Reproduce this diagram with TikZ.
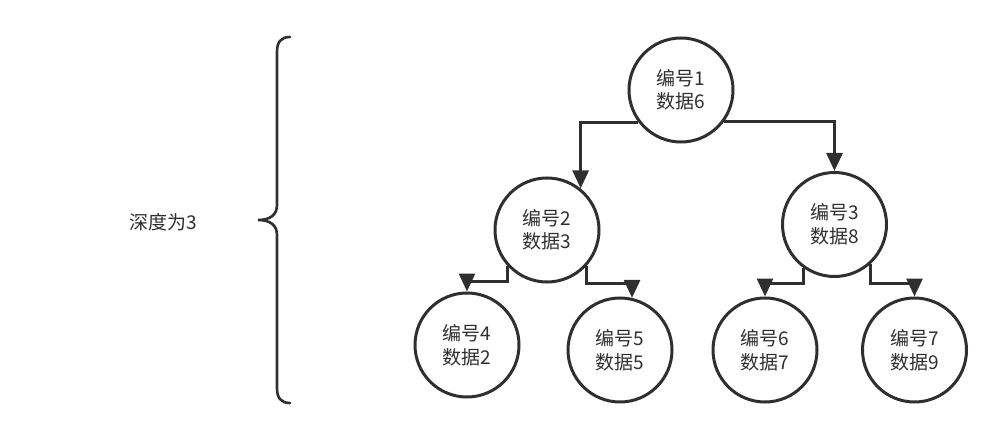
\documentclass[tikz,border=0pt]{standalone}
\usepackage{fontspec}
\setmainfont{Noto Sans CJK SC}
\usetikzlibrary{arrows.meta}
\definecolor{ink}{HTML}{2F2F2F}
\tikzset{
  treenode/.style={circle, draw=ink, line width=3pt, minimum size=104pt, inner sep=0pt,
    align=center, text=ink, font=\fontsize{19}{23.5}\selectfont},
  link/.style={draw=ink, line width=3pt, -{Triangle[length=18pt,width=16pt]}},
  bracestyle/.style={draw=ink, line width=2.6pt, line cap=round},
  labeltext/.style={text=ink, font=\fontsize{19}{23.5}\selectfont, inner sep=0pt}
}
\begin{document}
\begin{tikzpicture}[x=1pt,y=-1pt]
\useasboundingbox (0,0) rectangle (1004,441);
\node[treenode] (n1) at (681,90) {编号1\\数据6};
\node[treenode] (n2) at (547,230) {编号2\\数据3};
\node[treenode] (n3) at (834.5,224.5) {编号3\\数据8};
\node[treenode] (n4) at (467,345) {编号4\\数据2};
\node[treenode] (n5) at (620,350) {编号5\\数据5};
\node[treenode] (n6) at (765,350) {编号6\\数据7};
\node[treenode] (n7) at (914.5,350) {编号7\\数据9};
\node[labeltext] (depth) at (163,222) {深度为3};

\draw[link] (n1.217) -| (n2.51.5);
\draw[link] (n1.324) -| (n3.north);
\draw[link] (n2.223) -- ++(0,15) -| (n4.north);
\draw[link] (n2.-43) -- ++(0,17) -| (n5.77);
\draw[link] (n3.234.5) -- ++(0,16) -| (n6.north);
\draw[link] (n3.-47.5) -- ++(0,20) -| (n7.north);

\draw[bracestyle] (290,37) .. controls (281,37) and (277,42) .. (277,52)
  -- (277,205) .. controls (277,215) and (270,220) .. (258,220)
  .. controls (270,220) and (277,225) .. (277,235)
  -- (277,388) .. controls (277,398) and (281,403) .. (290,403);
\end{tikzpicture}
\end{document}
